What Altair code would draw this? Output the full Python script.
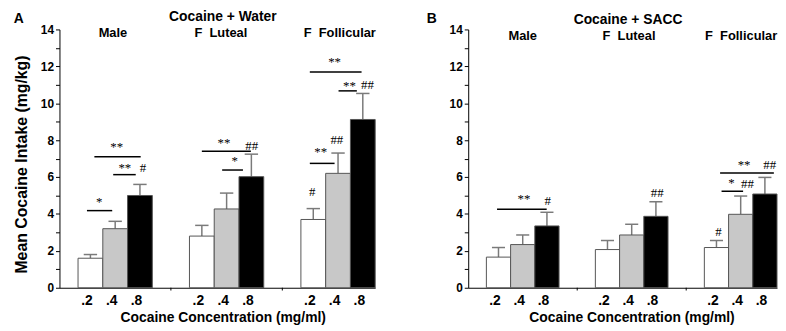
import altair as alt
import pandas as pd

# ---------------- data ----------------
groups = ["Male", "F\u00a0\u00a0Luteal", "F\u00a0\u00a0Follicular"]
doses = [".2", ".4", ".8"]
fills = ["#ffffff", "#c8c8c8", "#000000"]

water_mean = [1.6, 3.2, 5.0, 2.8, 4.27, 6.02, 3.7, 6.2, 9.12]
water_sem = [0.2, 0.4, 0.6, 0.58, 0.86, 1.22, 0.59, 1.1, 1.41]
sacc_mean = [1.66, 2.34, 3.35, 2.07, 2.86, 3.87, 2.18, 3.98, 5.08]
sacc_sem = [0.52, 0.52, 0.74, 0.49, 0.58, 0.79, 0.38, 0.99, 0.9]

# significance brackets: group, from, to (bar-index units within group), level (mg/kg)
water_br_group = [0, 0, 0, 1, 1, 2, 2, 2]
water_br_from = [-0.14, 0.92, 0.16, 0.0, 0.82, -0.14, 1.02, -0.14]
water_br_to = [0.88, 1.83, 2.03, 1.98, 1.66, 1.95, 1.76, 0.86]
water_br_level = [4.18, 6.13, 7.1, 7.4, 6.38, 11.69, 10.67, 6.74]

water_nt_group = [0, 0, 0, 0, 1, 1, 1, 2, 2, 2, 2, 2, 2]
water_nt_pos = [0.36, 1.39, 2.12, 1.06, 0.89, 2.01, 1.33, 0.86, 1.46, 2.19, 0.3, 0.95, -0.04]
water_nt_level = [4.81, 6.65, 6.47, 7.76, 8.0, 7.67, 7.04, 12.37, 11.1, 10.98, 7.54, 8.03, 5.16]
water_nt_text = ["*", "**", "#", "**", "**", "##", "*", "**", "**", "##", "**", "##", "#"]

sacc_br_group = [0, 2, 2]
sacc_br_from = [-0.06, 0.15, 0.21]
sacc_br_to = [1.99, 2.37, 1.1]
sacc_br_level = [4.25, 6.22, 5.23]

sacc_nt_group = [0, 0, 1, 2, 2, 2, 2, 2]
sacc_nt_pos = [1.05, 2.03, 2.05, 1.14, 2.2, 0.62, 1.28, 0.08]
sacc_nt_level = [4.96, 4.72, 5.14, 6.83, 6.65, 5.85, 5.62, 3.04]
sacc_nt_text = ["**", "#", "##", "**", "##", "*", "##", "#"]

# layout constants (bar-width units)
G0 = 0.75      # first bar left edge
GP = 4.5       # group period
XMAX = 12.75
FONT = "Liberation Sans"
SERIF = "Liberation Serif"


def first_center(g):
    return G0 + GP * g + 0.5


def make_panel(means, sems, br, nt, title, letter, title_y, label_y, letter_x,
               letter_y, label_pos, width, ytitle):
    rows = []
    for g in range(3):
        for d in range(3):
            i = g * 3 + d
            x0 = G0 + GP * g + d
            c = x0 + 0.5
            rows.append(dict(x0=x0, x1=x0 + 1, c=c, cl=c - 0.27, cr=c + 0.27,
                             base=0.0, mean=means[i], top=means[i] + sems[i],
                             dose=doses[d]))
    bars_df = pd.DataFrame(rows)

    xscale = alt.Scale(domain=[0, XMAX], nice=False, zero=False)
    yscale = alt.Scale(domain=[0, 14], nice=False)

    centers = list(bars_df["c"])
    label_expr = ("[" + ",".join("'%s'" % d for d in doses) +
                  "][floor((datum.value - %s) %% %s)]" % (G0, GP))

    xaxis = alt.Axis(values=centers, labelExpr=label_expr, ticks=False, grid=False,
                     domainColor="black", domainWidth=1, labelFont=FONT,
                     labelFontWeight="bold", labelFontSize=14, labelColor="black",
                     labelPadding=6, labelOffset=-4, labelFlush=False,
                     labelOverlap=False, labelBound=False,
                     title="Cocaine Concentration (mg/ml)", titleFont=FONT,
                     titleFontWeight="bold", titleFontSize=14, titleColor="black",
                     titlePadding=3, titleX=165)
    ykw = dict(values=list(range(15)),
               labelExpr="datum.value % 2 == 0 ? datum.label : ''",
               tickSize=4, tickColor="black", domainColor="black", grid=False,
               labelFont=FONT, labelFontWeight="bold", labelFontSize=12,
               labelColor="black", labelPadding=2, labelFlush=False,
               labelOverlap=False, labelBound=False)
    if ytitle:
        yaxis = alt.Axis(title=ytitle, titleFont=FONT, titleFontWeight="bold",
                         titleFontSize=16, titleColor="black", titlePadding=11,
                         titleY=136, **ykw)
    else:
        yaxis = alt.Axis(title=None, **ykw)

    def X(f):
        return alt.X(f, type="quantitative", scale=xscale, axis=xaxis)

    def Y(f):
        return alt.Y(f, type="quantitative", scale=yscale, axis=yaxis)

    base = alt.Chart(bars_df)
    err = base.mark_rule(color="#7a7a7a", strokeWidth=1.5).encode(
        x=X("c"), y=Y("mean"), y2="top:Q")
    caps = base.mark_rule(color="#7a7a7a", strokeWidth=1.5).encode(
        x=X("cl"), x2="cr:Q", y=Y("top"))
    bars = base.mark_bar(stroke="#555555", strokeWidth=1).encode(
        x=X("x0"), x2="x1:Q", y=Y("base"), y2="mean:Q",
        fill=alt.Fill("dose:N", scale=alt.Scale(domain=doses, range=fills), legend=None))

    # group separator ticks below the axis
    sep_df = pd.DataFrame(dict(sx=[GP * 1, GP * 2], sy0=[0, 0], sy1=[-0.15, -0.15]))
    seps = alt.Chart(sep_df).mark_rule(color="black", strokeWidth=1).encode(
        x=X("sx"), y=Y("sy0"), y2="sy1:Q")

    bg, bf, bt, bl = br
    br_df = pd.DataFrame(dict(
        bx1=[first_center(g) + f for g, f in zip(bg, bf)],
        bx2=[first_center(g) + t for g, t in zip(bg, bt)],
        by=bl))
    brackets = alt.Chart(br_df).mark_rule(color="black", strokeWidth=1.5).encode(
        x=X("bx1"), x2="bx2:Q", y=Y("by"))

    ng, npos, nl, ntx = nt
    nt_df = pd.DataFrame(dict(
        nx=[first_center(g) + p for g, p in zip(ng, npos)], ny=nl, t=ntx,
        star=[s.startswith("*") for s in ntx]))
    stars = alt.Chart(nt_df).transform_filter("datum.star").mark_text(
        font=SERIF, fontSize=13, baseline="middle", dy=3, color="black").encode(
        x=X("nx"), y=Y("ny"), text="t:N")
    hashes = alt.Chart(nt_df).transform_filter("!datum.star").mark_text(
        font=SERIF, fontSize=13, baseline="middle", color="black").encode(
        x=X("nx"), y=Y("ny"), text="t:N")

    lab_df = pd.DataFrame(dict(lx=[first_center(g) + p for g, p in enumerate(label_pos)],
                               ly=[label_y] * 3, t=groups))
    labels = alt.Chart(lab_df).mark_text(font=FONT, fontWeight="bold", fontSize=13,
                                         baseline="middle", color="black").encode(
        x=X("lx"), y=Y("ly"), text="t:N")

    head_df = pd.DataFrame(dict(hx=[first_center(1) + 1 - 0.15, letter_x],
                                hy=[title_y, letter_y], t=[title, letter]))
    heads = alt.Chart(head_df).mark_text(font=FONT, fontWeight="bold", fontSize=14,
                                         baseline="middle", color="black").encode(
        x=X("hx"), y=Y("hy"), text="t:N")

    return alt.layer(err, caps, bars, seps, brackets, stars, hashes, labels, heads).properties(
        width=width, height=261)


panel_a = make_panel(water_mean, water_sem,
                     (water_br_group, water_br_from, water_br_to, water_br_level),
                     (water_nt_group, water_nt_pos, water_nt_level, water_nt_text),
                     "Cocaine + Water", "A", 14.68, 13.83, -1.64, 14.56,
                     [0.91, 0.77, 1.07], 319, "Mean Cocaine Intake (mg/kg)")
panel_b = make_panel(sacc_mean, sacc_sem,
                     (sacc_br_group, sacc_br_from, sacc_br_to, sacc_br_level),
                     (sacc_nt_group, sacc_nt_pos, sacc_nt_level, sacc_nt_text),
                     "Cocaine + SACC", "B", 14.49, 13.62, -1.51, 14.59,
                     [1.0, 0.89, 1.02], 312, None)

chart = (alt.hconcat(panel_a, panel_b, spacing=50)
         .configure_view(stroke=None)
         .configure_axis(labelOverlap=False)
         .properties(padding={"left": 5, "top": 0, "right": 0, "bottom": 0}))

chart.save("out.html", embed_options={"renderer": "svg", "actions": False})
